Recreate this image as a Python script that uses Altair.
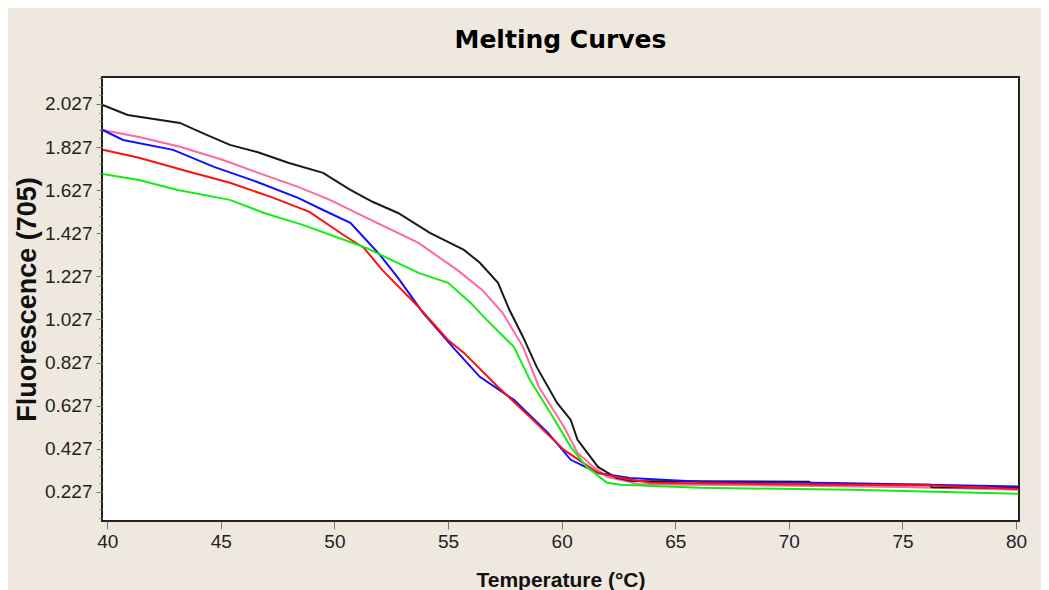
import altair as alt
import pandas as pd

# ---- data ----
black_T = [39.8, 40.9, 43.2, 44.2, 45.4, 46.6, 48.0, 49.5, 50.7, 51.7, 52.8, 54.2, 55.7, 56.4, 57.2, 57.7, 58.3, 58.9, 59.8, 60.4, 60.7, 61.6, 62.4, 63.1, 70.9, 71.0, 76.2, 76.3, 80.1]
black_F = [2.022, 1.976, 1.939, 1.892, 1.837, 1.804, 1.753, 1.707, 1.628, 1.572, 1.521, 1.429, 1.350, 1.290, 1.197, 1.072, 0.946, 0.807, 0.640, 0.561, 0.469, 0.343, 0.292, 0.278, 0.274, 0.262, 0.260, 0.248, 0.246]

pink_T = [39.8, 41.4, 43.2, 45.1, 46.9, 48.4, 49.8, 51.6, 53.7, 55.4, 56.5, 57.4, 58.3, 59.0, 60.1, 60.7, 61.4, 62.0, 63.4, 70.0, 75.0, 80.1]
pink_F = [1.906, 1.874, 1.828, 1.767, 1.698, 1.642, 1.582, 1.489, 1.382, 1.257, 1.164, 1.058, 0.900, 0.714, 0.529, 0.408, 0.343, 0.297, 0.262, 0.255, 0.250, 0.237]

blue_T = [39.8, 40.7, 42.9, 44.7, 46.6, 48.4, 49.5, 50.7, 51.4, 52.0, 52.8, 53.9, 55.2, 56.4, 57.9, 59.4, 60.4, 61.6, 63.0, 66.1, 72.0, 80.1]
blue_F = [1.906, 1.860, 1.814, 1.735, 1.665, 1.591, 1.535, 1.475, 1.396, 1.327, 1.220, 1.058, 0.900, 0.761, 0.654, 0.501, 0.376, 0.315, 0.292, 0.274, 0.268, 0.252]

red_T = [39.8, 41.4, 43.6, 45.4, 47.2, 48.9, 50.4, 51.3, 52.1, 53.7, 55.0, 55.7, 57.2, 58.6, 60.1, 61.6, 62.6, 63.9, 70.0, 76.0, 80.1]
red_F = [1.814, 1.777, 1.712, 1.661, 1.596, 1.526, 1.419, 1.359, 1.257, 1.085, 0.932, 0.872, 0.714, 0.575, 0.422, 0.315, 0.292, 0.269, 0.262, 0.258, 0.240]

green_T = [39.8, 41.4, 43.1, 45.4, 46.9, 48.6, 50.2, 51.4, 53.7, 55.0, 56.0, 56.7, 57.9, 58.6, 59.5, 60.4, 61.1, 62.0, 62.6, 66.1, 72.7, 80.1]
green_F = [1.702, 1.674, 1.628, 1.582, 1.521, 1.466, 1.405, 1.359, 1.243, 1.197, 1.104, 1.025, 0.900, 0.747, 0.594, 0.436, 0.343, 0.269, 0.260, 0.246, 0.237, 0.218]

series_names = ["pink", "black", "blue", "red", "green"]
series_colors = ["#FF66A3", "#1A1A1A", "#1010FF", "#FF1010", "#11EE11"]

y_major = [0.227, 0.427, 0.627, 0.827, 1.027, 1.227, 1.427, 1.627, 1.827, 2.027]
y_minor = [round(0.107 + 0.04 * i, 3) for i in range(52)]
x_ticks = [40, 45, 50, 55, 60, 65, 70, 75, 80]

x_domain = [39.77, 80.13]
y_domain = [0.092, 2.152]

rows = []
for name, T, F in [("pink", pink_T, pink_F), ("black", black_T, black_F),
                   ("blue", blue_T, blue_F), ("red", red_T, red_F),
                   ("green", green_T, green_F)]:
    for i, (t, f) in enumerate(zip(T, F)):
        rows.append({"T": t, "F": f, "series": name, "order": i})
df = pd.DataFrame(rows)

label_font = "Liberation Sans"

x_enc = alt.X("T:Q", scale=alt.Scale(domain=x_domain, nice=False, zero=False),
              axis=alt.Axis(values=x_ticks, format="d", tickSize=8, labelPadding=3,
                            labelFont=label_font, labelFontSize=19, labelColor="#222",
                            title="Temperature (°C)", titleFont=label_font,
                            titleFontSize=21, titleFontWeight="bold", titleColor="#111",
                            titleBaseline="alphabetic", titleY=65, grid=False,
                            domain=False, tickColor="#777"))

lines = alt.Chart(df).mark_line(strokeWidth=2).encode(
    x=x_enc,
    y=alt.Y("F:Q", scale=alt.Scale(domain=y_domain, nice=False, zero=False),
            axis=alt.Axis(values=y_major, format=".3f", tickSize=6, labelPadding=4,
                          labelFont=label_font, labelFontSize=19, labelColor="#222",
                          title="Fluorescence (705)", titleFont="Liberation Sans",
                          titleFontSize=27, titleFontWeight="bold", titleColor="#111",
                          titleX=-75, titleBaseline="middle", grid=False,
                          domain=False, tickColor="#777", orient="left")),
    color=alt.Color("series:N", scale=alt.Scale(domain=series_names, range=series_colors),
                    legend=None),
    order="order:Q",
    detail="series:N",
)

minor = alt.Chart(df).mark_line(strokeOpacity=0).encode(
    x=x_enc,
    y=alt.Y("F:Q", scale=alt.Scale(domain=y_domain, nice=False, zero=False),
            axis=alt.Axis(values=y_minor, labels=False, tickSize=3, title=None,
                          grid=False, domain=False, tickColor="#777", orient="left")),
    detail="series:N",
)

chart = alt.layer(minor, lines).resolve_axis(y="independent").properties(
    width=917,
    height=444,
    autosize=alt.AutoSizeParams(type="none"),
    padding={"left": 94, "top": 69, "right": 22, "bottom": 69},
    background="#EFE8DF",
    title=alt.TitleParams("Melting Curves", font="DejaVu Sans", fontSize=25,
                          fontWeight="bold", color="#000", baseline="alphabetic",
                          offset=4),
).configure_view(stroke="#222", strokeWidth=2, fill="white")

chart.save("out.html", embed_options={"renderer": "svg", "actions": False})
